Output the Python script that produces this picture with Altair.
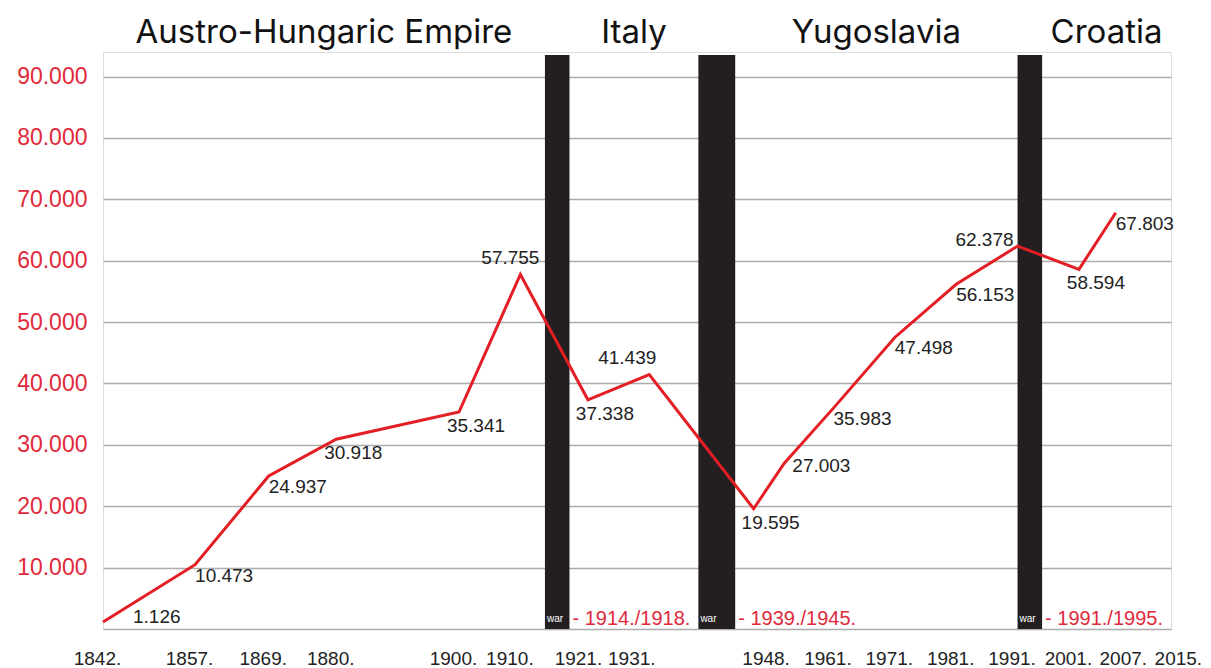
import altair as alt
import pandas as pd

# ---- data ----
years = [1842, 1857, 1869, 1880, 1900, 1910, 1921, 1931, 1948, 1953, 1961, 1971, 1981, 1991, 2001, 2007]
population = [1126, 10473, 24937, 30918, 35341, 57755, 37338, 41439, 19595, 27003, 35983, 47498, 56153, 62378, 58594, 67803]
label_place = ["start", "below-right", "below-right", "below", "below", "above", "below", "above-left",
               "below", "right", "below-right", "below-right", "below-right", "left", "below", "below-right"]

tick_years = [1842, 1857, 1869, 1880, 1900, 1910, 1921, 1931, 1948, 1961, 1971, 1981, 1991, 2001, 2007, 2015]
y_ticks = [0, 10000, 20000, 30000, 40000, 50000, 60000, 70000, 80000, 90000]

war_start = [1914, 1939, 1991]
war_end = [1918, 1945, 1995]
war_text = ["- 1914./1918.", "- 1939./1945.", "- 1991./1995."]
war_top = [93500, 93500, 93500]

region_names = ["Austro-Hungaric Empire", "Italy", "Yugoslavia", "Croatia"]
region_start = [1842, 1918, 1945, 1995]
region_end = [1914, 1939, 1991, 2016]

# ---- styling ----
RED = "#e0293a"
LINE_RED = "#e31e24"
BAR = "#231f20"
TXT = "#222222"
NUM_FONT = "Liberation Sans"

df = pd.DataFrame({"year": years, "pop": population, "place": label_place})
wars = pd.DataFrame({"start": war_start, "end": war_end, "label": war_text,
                     "bottom": [0] * len(war_start), "top": war_top})
regions = pd.DataFrame({"name": region_names, "start": region_start, "end": region_end})

x_scale = alt.Scale(domain=[1842, 2016], nice=False, zero=False)
y_scale = alt.Scale(domain=[0, 94000], nice=False)

offset_cond = [{"test": f"datum.value == {yr}", "value": v}
               for yr, v in [(1910, -11), (1921, -10), (1931, -18), (1948, 12),
                             (2001, -11), (2007, 7), (2015, 13)]]

x_axis = alt.Axis(values=tick_years, labelExpr="format(datum.value, 'd') + '.'",
                  grid=False, domain=False, ticks=False, labelPadding=20,
                  labelFont=NUM_FONT, labelFontSize=19, labelColor=TXT,
                  labelOverlap=False, labelFlush=False,
                  labelOffset={"condition": offset_cond, "value": -6}, title=None)
y_axis = alt.Axis(values=y_ticks,
                  labelExpr="datum.value == 0 ? '' : replace(format(datum.value, ','), ',', '.')",
                  grid=True, gridColor="#acacac", gridWidth=1.5, domain=False, ticks=False,
                  labelPadding=16, labelFont=NUM_FONT, labelFontSize=23, labelColor=RED, title=None)

bars = alt.Chart(wars).mark_rect(color=BAR).encode(
    x=alt.X("start:Q", scale=x_scale, axis=x_axis),
    x2="end:Q",
    y=alt.Y("bottom:Q", scale=y_scale, axis=y_axis),
    y2="top:Q",
)

war_word = alt.Chart(wars).mark_text(align="left", baseline="middle", dx=2, dy=-10,
                                     color="white", font=NUM_FONT, fontSize=10).encode(
    x=alt.X("start:Q", scale=x_scale),
    y=alt.Y("bottom:Q", scale=y_scale),
    text=alt.value("war"),
)
war_years = alt.Chart(wars).mark_text(align="left", baseline="middle", dx=3, dy=-10,
                                      color=RED, font=NUM_FONT, fontSize=20).encode(
    x=alt.X("end:Q", scale=x_scale),
    y=alt.Y("bottom:Q", scale=y_scale),
    text="label:N",
)

line = alt.Chart(df).mark_line(color=LINE_RED, strokeWidth=3).encode(
    x=alt.X("year:Q", scale=x_scale),
    y=alt.Y("pop:Q", scale=y_scale),
)

placements = {
    "start": ("left", 30, -5),
    "below-right": ("left", 0, 11),
    "below": ("center", 17, 14),
    "above": ("center", -10, -16),
    "above-left": ("right", 7, -17),
    "left": ("right", -4, -6),
    "right": ("left", 8, 3),
}

label_layers = []
for cls, (align, dx, dy) in placements.items():
    label_layers.append(
        alt.Chart(df).transform_filter(f"datum.place == '{cls}'").transform_calculate(
            label="replace(format(datum.pop, ','), ',', '.')"
        ).mark_text(align=align, baseline="middle", dx=dx, dy=dy, font=NUM_FONT,
                    fontSize=19, color=TXT).encode(
            x=alt.X("year:Q", scale=x_scale),
            y=alt.Y("pop:Q", scale=y_scale),
            text="label:N",
        )
    )

titles = alt.Chart(regions).transform_calculate(
    mid="(datum.start + datum.end) / 2"
).mark_text(font="Inter", fontSize=33, baseline="alphabetic", align="center", color="#111111").encode(
    x=alt.X("mid:Q", scale=x_scale),
    y=alt.value(-9),
    text="name:N",
)

chart = alt.layer(bars, line, war_word, war_years, *label_layers, titles).properties(
    width=1068, height=577,
    autosize=alt.AutoSizeParams(type="none"),
    padding={"left": 95, "top": 44, "right": 32, "bottom": 39},
).configure_view(stroke=None).configure(background="white")

chart.save("out.html", embed_options={"renderer": "svg", "actions": False})
